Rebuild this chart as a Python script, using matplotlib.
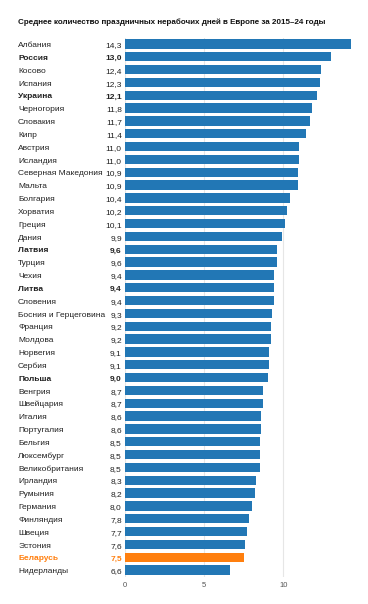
import numpy as np
import matplotlib
matplotlib.use('Agg')
import matplotlib.pyplot as plt

plt.rcParams['font.family'] = ['Liberation Sans', 'DejaVu Sans']

countries = ['Албания', 'Россия', 'Косово', 'Испания', 'Украина', 'Черногория',
             'Словакия', 'Кипр', 'Австрия', 'Исландия', 'Северная Македония',
             'Мальта', 'Болгария', 'Хорватия', 'Греция', 'Дания', 'Латвия',
             'Турция', 'Чехия', 'Литва', 'Словения', 'Босния и Герцеговина',
             'Франция', 'Молдова', 'Норвегия', 'Сербия', 'Польша', 'Венгрия',
             'Швейцария', 'Италия', 'Португалия', 'Бельгия', 'Люксембург',
             'Великобритания', 'Ирландия', 'Румыния', 'Германия', 'Финляндия',
             'Швеция', 'Эстония', 'Беларусь', 'Нидерланды']
days = [14.3, 13.0, 12.4, 12.3, 12.1, 11.8, 11.7, 11.4, 11.0, 11.0, 10.9,
        10.9, 10.4, 10.2, 10.1, 9.9, 9.6, 9.6, 9.4, 9.4, 9.4, 9.3, 9.2, 9.2,
        9.1, 9.1, 9.0, 8.7, 8.7, 8.6, 8.6, 8.5, 8.5, 8.5, 8.3, 8.2, 8.0, 7.8,
        7.7, 7.6, 7.5, 6.6]
bold = ['Россия', 'Украина', 'Латвия', 'Литва', 'Польша']
highlight = 'Беларусь'

blue = '#2277b5'
orange = '#ff7f0e'

fig = plt.figure(figsize=(3.68, 6.04), dpi=100)
ax = fig.add_axes([125 / 368, 1 - 576.5 / 604, 228 / 368, (576.5 - 37.5) / 604])

ind = np.arange(len(countries))
colors = [orange if c == highlight else blue for c in countries]
ax.barh(ind, days, 0.72, color=colors, zorder=2)
ax.set_ylim(len(countries) - 0.5, -0.5)
ax.set_xlim(0, 14.4)

for i, (c, v) in enumerate(zip(countries, days)):
    weight = 'bold' if (c in bold or c == highlight) else 'normal'
    col = orange if c == highlight else '#222222'
    ax.text(-107 / 15.85, i + 0.25, c, ha='left', va='baseline', fontsize=6.0,
            fontweight=weight, color=col)
    ax.text(-0.2, i + 0.25, ('%.1f' % v).replace('.', ','), ha='right',
            va='baseline', fontsize=6.0, fontweight=weight, color=col)

ax.set_yticks([])
ax.set_xticks([0, 5, 10])
ax.tick_params(axis='x', length=0, labelsize=5.5, labelcolor='#555555', pad=4)
ax.grid(axis='x', color='#e6e6e6', linewidth=0.8, zorder=0)
for s in ax.spines.values():
    s.set_visible(False)

fig.text(18 / 368, 1 - 22 / 604, 'Среднее количество праздничных нерабочих дней в Европе за 2015–24 годы',
         ha='left', va='center', fontsize=5.8, fontweight='bold', color='#111111')

fig.savefig('out.png', dpi=100, facecolor='white')
